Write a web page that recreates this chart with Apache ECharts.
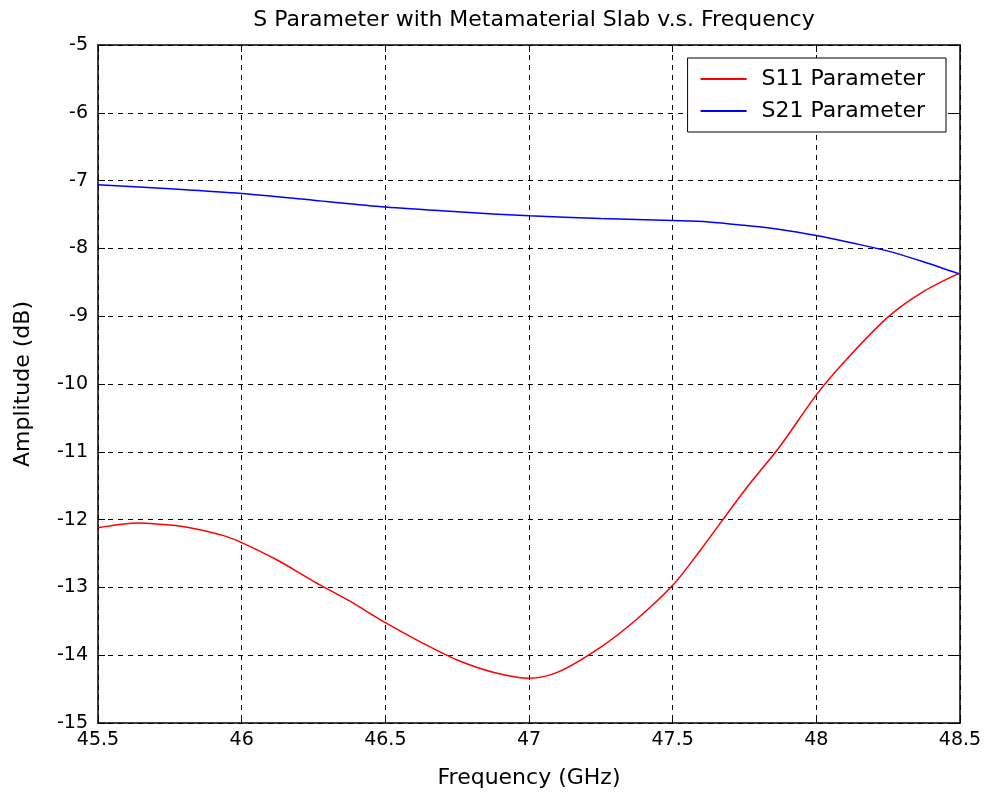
<!DOCTYPE html>
<html><head><meta charset="utf-8">
<script src="https://cdn.jsdelivr.net/npm/echarts@6/dist/echarts.min.js"></script>
<style>html,body{margin:0;padding:0;background:#fff}#c{width:989px;height:801px}</style>
</head><body><div id="c"></div>
<script>
const freq = [45.5,45.64,45.75,45.82,45.94,46,46.125,46.25,46.375,46.5,46.625,46.75,46.875,47,47.1,47.25,47.375,47.5,47.6,47.75,47.875,48,48.1,48.25,48.375,48.5];
const s11 = [-12.12,-12.05,-12.08,-12.12,-12.24,-12.34,-12.6,-12.91,-13.2,-13.52,-13.81,-14.07,-14.25,-14.34,-14.25,-13.88,-13.47,-12.97,-12.43,-11.57,-10.91,-10.16,-9.66,-9.01,-8.63,-8.36];
const freq21 = [45.5,45.75,46,46.25,46.5,46.75,47,47.25,47.5,47.625,47.75,47.875,48,48.125,48.25,48.375,48.5];
const s21 = [-7.06,-7.12,-7.19,-7.29,-7.39,-7.46,-7.52,-7.56,-7.59,-7.61,-7.66,-7.72,-7.81,-7.92,-8.04,-8.2,-8.38];
const xTicks = [45.5,46,46.5,47,47.5,48,48.5];
const yTicks = [-5,-6,-7,-8,-9,-10,-11,-12,-13,-14,-15];

const F = '"DejaVu Sans", Verdana, sans-serif';
const chart = echarts.init(document.getElementById('c'));
const axisLine = {show:true, lineStyle:{color:'#000', width:1.5}};
chart.setOption({
  animation:false,
  title:{text:'S Parameter with Metamaterial Slab v.s. Frequency', left:529, textAlign:'center', top:4,
    textStyle:{fontFamily:F, fontSize:22, fontWeight:'normal', color:'#000'}},
  legend:{orient:'vertical', right:43, top:58,
    borderColor:'#000', borderWidth:1, backgroundColor:'#fff', padding:[10,21,10,13],
    itemWidth:46, itemHeight:2, itemGap:10, icon:'rect',
    textStyle:{fontFamily:F, fontSize:22, color:'#000', padding:[0,0,0,10]},
    data:['S11 Parameter','S21 Parameter']},
  grid:{left:98, right:29, top:45, bottom:78},
  xAxis:[{type:'value', min:45.5, max:48.5, interval:0.5, position:'bottom',
    name:'Frequency (GHz)', nameLocation:'middle', nameGap:44,
    nameTextStyle:{fontFamily:F, fontSize:22, color:'#000'},
    axisLine:axisLine, axisTick:{inside:true, length:7, lineStyle:{color:'#000'}},
    axisLabel:{fontFamily:F, fontSize:19, color:'#000', margin:8,
      formatter:v=>xTicks.includes(+v.toFixed(1))?String(+v.toFixed(1)):''},
    splitLine:{show:true, lineStyle:{color:'#000', type:[5,5], width:1}}},
   {type:'value', min:45.5, max:48.5, interval:0.5, position:'top',
    axisLine:axisLine, axisTick:{inside:true, length:7, lineStyle:{color:'#000'}},
    axisLabel:{show:false}, splitLine:{show:false}}],
  yAxis:[{type:'value', min:-15, max:-5, interval:1, position:'left',
    name:'Amplitude (dB)', nameLocation:'middle', nameGap:64, nameRotate:90,
    nameTextStyle:{fontFamily:F, fontSize:22, color:'#000'},
    axisLine:axisLine, axisTick:{inside:true, length:7, lineStyle:{color:'#000'}},
    axisLabel:{fontFamily:F, fontSize:19, color:'#000', margin:10,
      formatter:v=>yTicks.includes(v)?String(v):''},
    splitLine:{show:true, lineStyle:{color:'#000', type:[5,5], width:1}}},
   {type:'value', min:-15, max:-5, interval:1, position:'right',
    axisLine:axisLine, axisTick:{inside:true, length:7, lineStyle:{color:'#000'}},
    axisLabel:{show:false}, splitLine:{show:false}}],
  series:[
    {name:'S11 Parameter', type:'line', data:freq.map((f,i)=>[f,s11[i]]), smooth:0.3,
     showSymbol:false, symbol:'none', color:'#ff0000', lineStyle:{color:'#ff0000', width:1.5}, z:5},
    {name:'S21 Parameter', type:'line', data:freq21.map((f,i)=>[f,s21[i]]), smooth:0.3,
     showSymbol:false, symbol:'none', color:'#0000ff', lineStyle:{color:'#0000ff', width:1.5}, z:5}
  ]
});
</script></body></html>
